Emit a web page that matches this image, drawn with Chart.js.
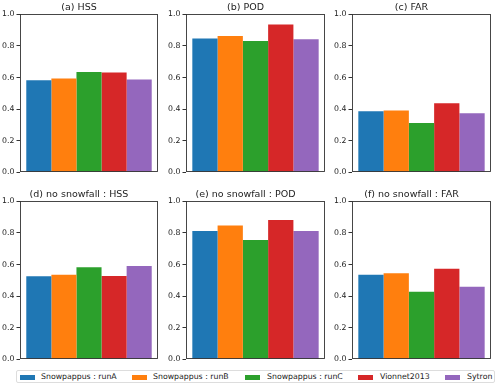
<!DOCTYPE html>
<html>
<head>
<meta charset="utf-8">
<script src="https://cdn.jsdelivr.net/npm/chart.js@4"></script>
<style>
  body { margin: 0; background: #fff; font-family: "DejaVu Sans", sans-serif; }
  #wrap { position: relative; width: 500px; height: 387px; overflow: hidden; }
  .panel { position: absolute; }
  #legend { position: absolute; left: 16px; top: 370px; width: 479px; height: 13px;
            border: 1px solid #ddd; border-radius: 2px; box-sizing: border-box; }
  .sw { position: absolute; top: 4px; width: 15px; height: 5px; }
  .lt { position: absolute; top: 0px; font-size: 7.8px; line-height: 12px; color: #222; white-space: nowrap; }
</style>
</head>
<body>
<div id="wrap">
  <div id="legend"></div>
</div>
<script>
// data
const seriesNames = ['Snowpappus : runA', 'Snowpappus : runB', 'Snowpappus : runC', 'Vionnet2013', 'Sytron'];
const colors = ['#1f77b4', '#ff7f0e', '#2ca02c', '#d62728', '#9467bd'];
const panelTitles = ['(a) HSS', '(b) POD', '(c) FAR',
                     '(d) no snowfall : HSS', '(e) no snowfall : POD', '(f) no snowfall : FAR'];

const hss = [0.583, 0.594, 0.635, 0.632, 0.588];
const pod = [0.848, 0.863, 0.831, 0.936, 0.842];
const far = [0.387, 0.391, 0.312, 0.438, 0.374];
const hssNoSnow = [0.526, 0.536, 0.583, 0.528, 0.591];
const podNoSnow = [0.813, 0.847, 0.755, 0.883, 0.813];
const farNoSnow = [0.536, 0.545, 0.428, 0.574, 0.460];
const panelValues = [hss, pod, far, hssNoSnow, podNoSnow, farNoSnow];

const colLeft = [0, 166, 332];
const colWidth = [160, 161, 161];
const rowTop = [0, 187];

const frame = {
  id: 'frame',
  afterDatasetsDraw(chart) {
    const a = chart.chartArea;
    const ctx = chart.ctx;
    ctx.save();
    ctx.strokeStyle = '#333';
    ctx.lineWidth = 0.9;
    ctx.strokeRect(Math.round(a.left) + 0.5, Math.round(a.top) + 0.5,
                   Math.round(a.right - a.left) - 1, Math.round(a.bottom - a.top) - 1);
    ctx.restore();
  }
};

const wrap = document.getElementById('wrap');

panelValues.forEach((vals, i) => {
  const col = i % 3, row = Math.floor(i / 3);
  const div = document.createElement('div');
  div.className = 'panel';
  div.style.left = colLeft[col] + 'px';
  div.style.top = rowTop[row] + 'px';
  const canvas = document.createElement('canvas');
  canvas.width = colWidth[col];
  canvas.height = 179;
  div.appendChild(canvas);
  wrap.appendChild(div);

  new Chart(canvas.getContext('2d'), {
    type: 'bar',
    data: {
      labels: [''],
      datasets: seriesNames.map((name, k) => ({
        label: name,
        data: [vals[k]],
        backgroundColor: colors[k],
        borderWidth: 0,
        categoryPercentage: 0.909,
        barPercentage: 1
      }))
    },
    options: {
      responsive: false,
      animation: false,
      layout: { padding: { top: 2, right: 2, bottom: 2, left: 0 } },
      scales: {
        x: { display: false },
        y: {
          min: 0,
          max: 1,
          afterFit: s => { s.width = 20; },
          ticks: {
            stepSize: 0.2,
            padding: 2,
            color: '#222',
            font: { family: 'DejaVu Sans', size: 7.8 },
            callback: v => v.toFixed(1)
          },
          grid: { drawOnChartArea: false, tickLength: 3.5, color: '#333' },
          border: { display: false }
        }
      },
      plugins: {
        legend: { display: false },
        tooltip: { enabled: false },
        title: {
          display: true,
          text: panelTitles[i],
          color: '#222',
          font: { family: 'DejaVu Sans', size: 9.5, weight: 'normal' },
          padding: { top: 0, bottom: 1 }
        }
      }
    },
    plugins: [frame]
  });
});

// legend
const swLeft = [20, 132, 245, 358, 445];
const txtLeft = [41, 153, 267, 380, 467];
const legend = document.getElementById('legend');
seriesNames.forEach((name, k) => {
  const sw = document.createElement('div');
  sw.className = 'sw';
  sw.style.left = (swLeft[k] - 17) + 'px';
  sw.style.background = colors[k];
  legend.appendChild(sw);
  const t = document.createElement('div');
  t.className = 'lt';
  t.style.left = (txtLeft[k] - 17) + 'px';
  t.textContent = name;
  legend.appendChild(t);
});
</script>
</body>
</html>
